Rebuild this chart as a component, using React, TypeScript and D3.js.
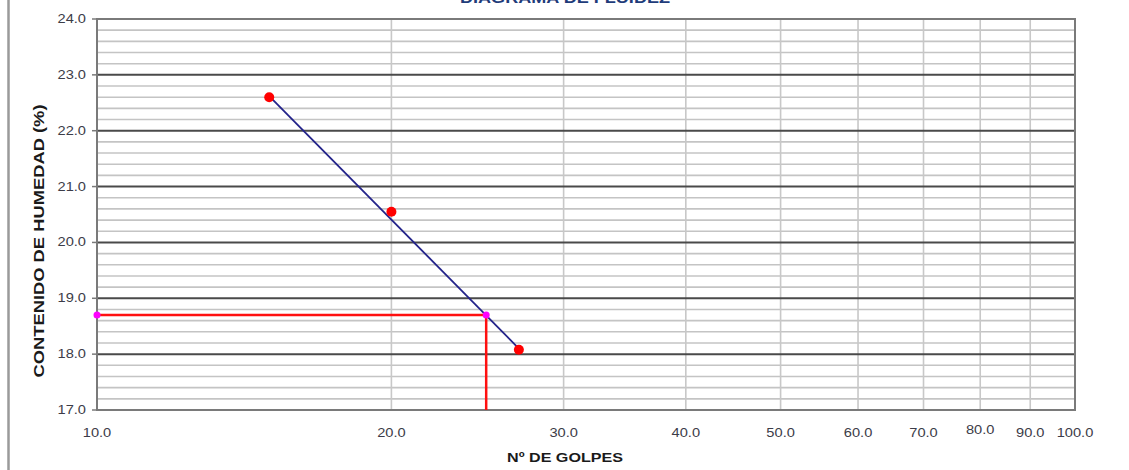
import React, { useRef, useEffect } from "react";
import * as d3 from "d3";

// numero de golpes / contenido de humedad
const golpes = [15, 20, 27];
const humedad = [22.6, 20.55, 18.08];

// linea de tendencia
const trendGolpes = [15, 27];
const trendHumedad = [22.62, 18.1];

// limite liquido a 25 golpes
const llGolpes = 25;
const llHumedad = 18.7;

const xTicks = [10, 20, 30, 40, 50, 60, 70, 80, 90, 100];
const yTicks = [17, 18, 19, 20, 21, 22, 23, 24];

const App = () => {
  const ref = useRef(null);

  useEffect(() => {
    const svg = d3.select(ref.current);
    svg.selectAll("*").remove();

    const height = 470;
    const left = 97;
    const right = 1075;
    const top = 19;
    const bottom = 410;
    const font = "'Liberation Sans', Arial, sans-serif";
    const stretch = 1.22; // el texto del original sale ensanchado

    const x = d3.scaleLog().domain([10, 100]).range([left, right]);
    const y = d3.scaleLinear().domain([17, 24]).range([bottom, top]);

    // borde gris de la izquierda
    svg
      .append("line")
      .attr("x1", 8.5)
      .attr("x2", 8.5)
      .attr("y1", 0)
      .attr("y2", height)
      .attr("stroke", "#9a9a9a")
      .attr("stroke-width", 2.5);

    // titulo (cortado arriba)
    svg
      .append("text")
      .attr("x", 565)
      .attr("y", 3)
      .attr("text-anchor", "middle")
      .attr("font-family", font)
      .attr("font-weight", "bold")
      .attr("font-size", 15)
      .attr("fill", "#1f3c7a")
      .attr("textLength", 210)
      .attr("lengthAdjust", "spacingAndGlyphs")
      .text("DIAGRAMA DE FLUIDEZ");

    const g = svg.append("g");

    // lineas menores cada 0.2
    const minor = d3.range(17, 24.001, 0.2).filter((v) => Math.abs(v - Math.round(v)) > 0.01);
    g.selectAll(".minor")
      .data(minor)
      .join("line")
      .attr("x1", left)
      .attr("x2", right)
      .attr("y1", (d) => y(d))
      .attr("y2", (d) => y(d))
      .attr("stroke", "#c4c4c4")
      .attr("stroke-width", 1.6);

    // lineas verticales
    g.selectAll(".vgrid")
      .data(xTicks.slice(1, -1))
      .join("line")
      .attr("x1", (d) => x(d))
      .attr("x2", (d) => x(d))
      .attr("y1", top)
      .attr("y2", bottom)
      .attr("stroke", "#c8c8c8")
      .attr("stroke-width", 1.6);

    // lineas mayores
    g.selectAll(".major")
      .data(yTicks)
      .join("line")
      .attr("x1", left)
      .attr("x2", right)
      .attr("y1", (d) => y(d))
      .attr("y2", (d) => y(d))
      .attr("stroke", "#4a4a4a")
      .attr("stroke-width", 2);

    // marco
    g.append("rect")
      .attr("x", left)
      .attr("y", top)
      .attr("width", right - left)
      .attr("height", bottom - top)
      .attr("fill", "none")
      .attr("stroke", "#7a7a7a")
      .attr("stroke-width", 2);

    // ticks y
    g.selectAll(".ytick")
      .data(yTicks)
      .join("line")
      .attr("x1", left - 5)
      .attr("x2", left)
      .attr("y1", (d) => y(d))
      .attr("y2", (d) => y(d))
      .attr("stroke", "#7a7a7a")
      .attr("stroke-width", 1.5);

    g.selectAll(".ylab")
      .data(yTicks)
      .join("text")
      .attr("transform", (d) => `translate(86,${y(d) + 4}) scale(${stretch},1)`)
      .attr("text-anchor", "end")
      .attr("font-family", font)
      .attr("font-size", 12)
      .attr("fill", "#3c3c48")
      .text((d) => d.toFixed(1));

    g.selectAll(".xlab")
      .data(xTicks)
      .join("text")
      .attr("transform", (d) => `translate(${x(d)},${d === 80 ? 434 : 437}) scale(${stretch},1)`)
      .attr("text-anchor", "middle")
      .attr("font-family", font)
      .attr("font-size", 12)
      .attr("fill", "#3c3c48")
      .text((d) => d.toFixed(1));

    // titulos de ejes
    g.append("text")
      .attr("x", 565)
      .attr("y", 462)
      .attr("text-anchor", "middle")
      .attr("font-family", font)
      .attr("font-weight", "bold")
      .attr("font-size", 12)
      .attr("fill", "#1a1a1a")
      .attr("textLength", 116)
      .attr("lengthAdjust", "spacingAndGlyphs")
      .text("Nº DE GOLPES");

    g.append("text")
      .attr("transform", "translate(44,241) rotate(-90)")
      .attr("text-anchor", "middle")
      .attr("font-family", font)
      .attr("font-weight", "bold")
      .attr("font-size", 15.5)
      .attr("fill", "#1a1a1a")
      .attr("textLength", 273)
      .attr("lengthAdjust", "spacingAndGlyphs")
      .text("CONTENIDO DE HUMEDAD (%)");

    // lineas rojas del limite liquido
    const ll = [
      [10, llHumedad],
      [llGolpes, llHumedad],
      [llGolpes, 17],
    ];
    g.append("path")
      .attr(
        "d",
        d3
          .line()
          .x((d) => x(d[0]))
          .y((d) => y(d[1]))(ll)
      )
      .attr("fill", "none")
      .attr("stroke", "#ff1010")
      .attr("stroke-width", 2.5);

    // linea de tendencia
    g.append("path")
      .attr(
        "d",
        d3
          .line()
          .x((d) => x(d[0]))
          .y((d) => y(d[1]))(trendGolpes.map((v, i) => [v, trendHumedad[i]]))
      )
      .attr("fill", "none")
      .attr("stroke", "#23238a")
      .attr("stroke-width", 1.8);

    // puntos
    g.selectAll(".pt")
      .data(golpes.map((v, i) => [v, humedad[i]]))
      .join("circle")
      .attr("cx", (d) => x(d[0]))
      .attr("cy", (d) => y(d[1]))
      .attr("r", 5)
      .attr("fill", "#ff0000");

    g.selectAll(".llpt")
      .data([
        [10, llHumedad],
        [llGolpes, llHumedad],
      ])
      .join("circle")
      .attr("cx", (d) => x(d[0]))
      .attr("cy", (d) => y(d[1]))
      .attr("r", 3.5)
      .attr("fill", "#ff00ff");
  });

  return (
    <svg
      ref={ref}
      width={1129}
      height={470}
      style={{ position: "absolute", left: 0, top: 0, background: "#fff" }}
    ></svg>
  );
};

export default App;
